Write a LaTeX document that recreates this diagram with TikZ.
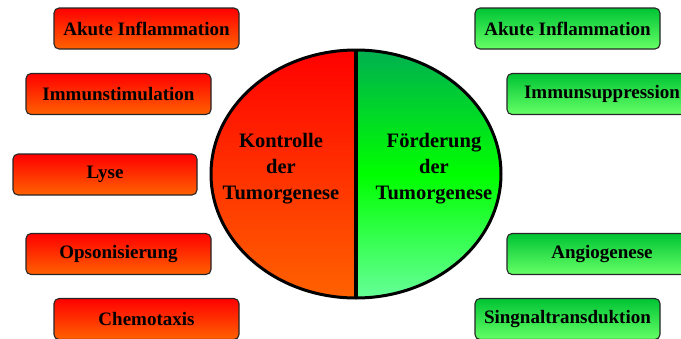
\documentclass[tikz,border=0pt]{standalone}
\usepackage{fontspec}
\setmainfont{Liberation Serif}
\usetikzlibrary{shapes.geometric}
\definecolor{rtop}{HTML}{FF0000}
\definecolor{rbot}{HTML}{FF6200}
\definecolor{gtop}{HTML}{00C434}
\definecolor{gbot}{HTML}{66FF66}
\definecolor{ctop}{HTML}{00B050}
\definecolor{cmid}{HTML}{00FF00}
\definecolor{cbot}{HTML}{66FF99}
\tikzset{
  box/.style={draw=black!85, line width=1.1pt, rounded corners=5pt, minimum height=41pt, inner sep=0pt,
    font=\fontsize{19}{20}\selectfont\bfseries},
  redbox/.style={box, top color=rtop, bottom color=rbot, minimum width=185pt},
  greenbox/.style={box, top color=gtop, bottom color=gbot, minimum width=185pt},
  ctext/.style={align=center, font=\fontsize{20.5}{26}\selectfont\bfseries}
}
\begin{document}
\begin{tikzpicture}[x=1pt,y=-1pt]
\useasboundingbox (0,0) rectangle (681,338);
% left half
\path[top color=rtop, bottom color=rbot] (356,50) arc[start angle=270, end angle=90, x radius=145, y radius=124] -- cycle;
% right half
\path[top color=ctop, bottom color=cbot, middle color=cmid] (356,50) arc[start angle=-90, end angle=90, x radius=145, y radius=124] -- cycle;
\draw[line width=3pt] (356,174) ellipse[x radius=145, y radius=124];
\coordinate (ctop) at (356,50);
\coordinate (cbot) at (356,298);
\draw[line width=3.5pt] (ctop) -- (cbot);
\node[ctext] (kontrolle) at (281,169) {Kontrolle\\der\\Tumorgenese};
\node[ctext] (foerderung) at (434,169) {Förderung\\der\\Tumorgenese};
% left boxes
\node[redbox] (l1) at (146.5,28.5) {Akute Inflammation};
\node[redbox] (l2) at (118.5,94) {Immunstimulation};
\node[redbox, minimum width=184pt] (l3) at (105,174.5) {Lyse};
\node[redbox] (l4) at (118.5,254) {Opsonisierung};
\node[redbox] (l5) at (146.5,319) {Chemotaxis};
% right boxes
\node[greenbox] (r1) at (567.5,28.5) {Akute Inflammation};
\node[greenbox, minimum width=190pt] (r2) at (602,94) {Immunsuppression};
\node[greenbox, minimum width=190pt] (r3) at (602,254) {Angiogenese};
\node[greenbox] (r4) at (567.5,319) {Singnaltransduktion};
\end{tikzpicture}
\end{document}
